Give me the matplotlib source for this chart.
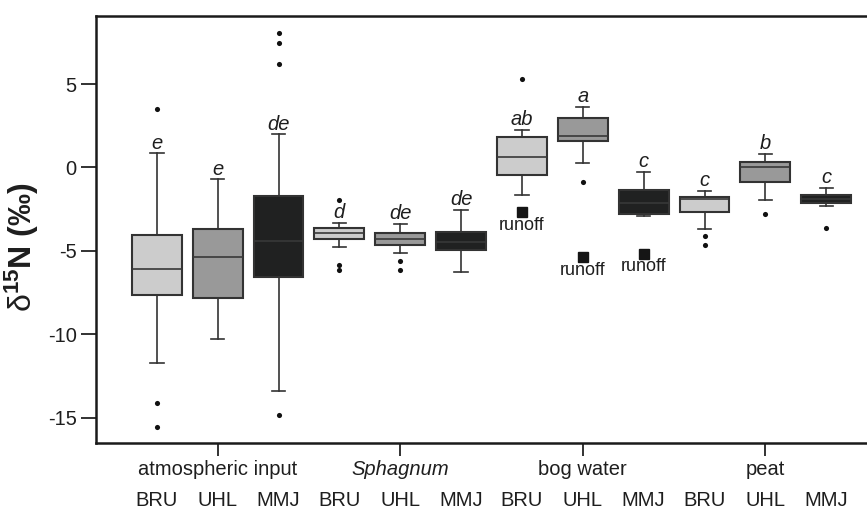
import matplotlib
matplotlib.use('Agg')
import matplotlib.pyplot as plt

plt.rcParams['font.family'] = ['Liberation Sans', 'DejaVu Sans']
plt.rcParams['axes.unicode_minus'] = False
plt.rcParams['mathtext.fontset'] = 'custom'
plt.rcParams['mathtext.rm'] = 'Liberation Sans'
plt.rcParams['mathtext.bf'] = 'Liberation Sans:bold'
plt.rcParams['mathtext.it'] = 'Liberation Sans:italic'

# ---- data ----
groups = ['atmospheric input', 'Sphagnum', 'bog water', 'peat']
sites = ['BRU', 'UHL', 'MMJ']
whis_hi = [0.84, -0.72, 1.98, -3.32, -3.40, -2.56, 2.24, 3.62, -0.26, -1.40, 0.82, -1.24]
q3 = [-4.06, -3.70, -1.72, -3.60, -3.94, -3.84, 1.80, 2.94, -1.36, -1.76, 0.34, -1.66]
med = [-6.10, -5.34, -4.38, -3.92, -4.28, -4.48, 0.60, 1.88, -2.10, -1.90, 0.04, -1.90]
q1 = [-7.67, -7.84, -6.58, -4.28, -4.62, -4.96, -0.48, 1.58, -2.80, -2.64, -0.90, -2.14]
whis_lo = [-11.75, -10.29, -13.43, -4.76, -5.10, -6.26, -1.64, 0.28, -2.92, -3.68, -1.92, -2.30]
outliers = [[3.48, -14.09, -15.57], [], [8.07, 7.45, 6.23, -14.85],
            [-1.96, -5.82, -6.16], [-5.60, -6.12], [],
            [5.28], [-0.88], [],
            [-4.12, -4.66], [-2.76], [-3.62]]
letters = ['e', 'e', 'de', 'd', 'de', 'de', 'ab', 'a', 'c', 'c', 'b', 'c']
runoff = [None, None, None, None, None, None, -2.68, -5.36, -5.16, None, None, None]
site_colors = ['#cccccc', '#999999', '#202121']

# ---- figure ----
W, H = 867, 509
fig = plt.figure(figsize=(W / 100, H / 100), dpi=100)
ax_left, ax_right_px = 96, 96 + 13 * 60.85
ax = fig.add_axes([ax_left / W, (H - 442.7) / H, (ax_right_px - ax_left) / W, (442.7 - 15.7) / H])

n = len(med)
positions = list(range(1, n + 1))
stats = []
for i in range(n):
    stats.append(dict(med=med[i], q1=q1[i], q3=q3[i], whislo=whis_lo[i],
                      whishi=whis_hi[i], fliers=outliers[i]))

bp = ax.bxp(stats, positions=positions, widths=0.82, patch_artist=True,
            showfliers=True, capwidths=0.22,
            boxprops=dict(edgecolor='#333333', linewidth=1.5),
            whiskerprops=dict(color='#333333', linewidth=1.2),
            capprops=dict(color='#333333', linewidth=1.2),
            medianprops=dict(color='#383838', linewidth=1.2),
            flierprops=dict(marker='o', markersize=3.7, markerfacecolor='#111111',
                            markeredgecolor='none'))
for i, patch in enumerate(bp['boxes']):
    patch.set_facecolor(site_colors[i % 3])

# significance letters
for i in range(n):
    ax.annotate(letters[i], xy=(positions[i], whis_hi[i]), xytext=(0, 3.5),
                textcoords='offset points', ha='center', va='baseline',
                fontsize=14.5, fontstyle='italic', color='#1e1e1e')

# runoff markers
for i in range(n):
    if runoff[i] is not None:
        ax.plot(positions[i], runoff[i], marker='s', markersize=6.5,
                color='#151515', linestyle='none')
        ax.annotate('runoff', xy=(positions[i], runoff[i]), xytext=(0, -9.6),
                    textcoords='offset points', ha='center', va='center',
                    fontsize=13, color='#1e1e1e')

ax.set_xlim(0, 13)
ax.set_ylim(-16.5, 9.1)
ax.set_yticks([-15, -10, -5, 0, 5])
ax.set_xticks([2, 5, 8, 11])
ax.set_xticklabels(groups)
for lab in ax.get_xticklabels():
    if lab.get_text() == 'Sphagnum':
        lab.set_fontstyle('italic')

ax.tick_params(axis='y', length=10.5, width=1.3, pad=3.5, labelsize=14.5,
               color='#222222', labelcolor='#1e1e1e')
ax.tick_params(axis='x', length=9.5, width=1.3, pad=2.8, labelsize=14.5,
               color='#222222', labelcolor='#1e1e1e')

for s in ['left', 'top', 'bottom']:
    ax.spines[s].set_linewidth(1.8)
    ax.spines[s].set_color('#1a1a1a')
ax.spines['right'].set_visible(False)

# site labels
for i in range(n):
    ax.annotate(sites[i % 3], xy=(positions[i], 0), xycoords=('data', 'axes fraction'),
                xytext=(0, -57.3 * 72 / 100), textcoords='offset points',
                ha='center', va='center', fontsize=14.5, color='#1e1e1e')

fig.text(22 / W, 1 - 247 / H, r'$\mathrm{\delta}^{\mathbf{15}}$N (‰)', rotation=90,
         ha='center', va='center', fontsize=23, fontweight='bold', color='#1e1e1e')

fig.savefig('out.png', dpi=100)
